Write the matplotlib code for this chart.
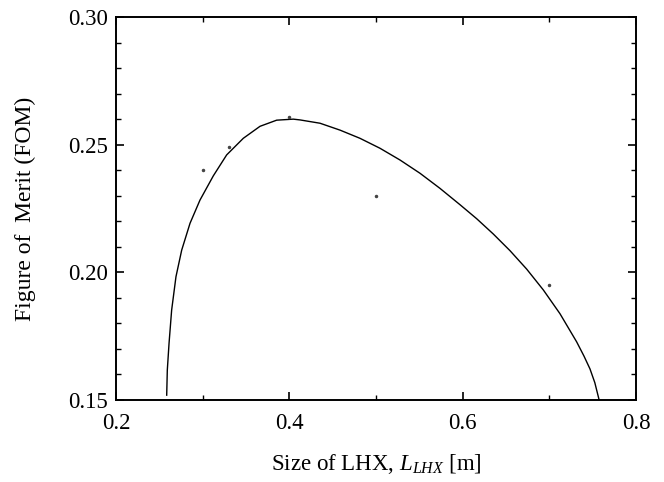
import matplotlib
matplotlib.use('Agg')
import matplotlib.pyplot as plt
from matplotlib.ticker import MultipleLocator, FuncFormatter

plt.rcParams['font.family'] = 'Liberation Serif'
plt.rcParams['mathtext.fontset'] = 'custom'
plt.rcParams['mathtext.rm'] = 'Liberation Serif'
plt.rcParams['mathtext.it'] = 'Liberation Serif:italic'

# measured points
x_data = [0.30, 0.33, 0.40, 0.50, 0.70]
fom_data = [0.240, 0.249, 0.261, 0.230, 0.195]

# fitted curve
x_fit = [0.2585, 0.2592, 0.2612, 0.2642, 0.2692, 0.2758, 0.2854, 0.2969,
         0.3123, 0.3277, 0.3469, 0.3662, 0.3854, 0.4046, 0.4123, 0.4354,
         0.4585, 0.4815, 0.5046, 0.5277, 0.5508, 0.5738, 0.5969, 0.6162,
         0.6354, 0.6546, 0.6738, 0.6931, 0.7123, 0.7315, 0.7400, 0.7469,
         0.7525, 0.7575]
fom_fit = [0.1519, 0.1617, 0.1722, 0.1852, 0.1983, 0.2087, 0.2192, 0.2283,
           0.2378, 0.2460, 0.2525, 0.2572, 0.2596, 0.2600, 0.2597, 0.2584,
           0.2557, 0.2525, 0.2486, 0.2440, 0.2388, 0.2329, 0.2265, 0.2210,
           0.2150, 0.2085, 0.2013, 0.1931, 0.1838, 0.1728, 0.1672, 0.1622,
           0.1568, 0.1500]

fig = plt.figure(figsize=(6.64, 4.82), dpi=100)
ax = fig.add_axes([0.1747, 0.1701, 0.7831, 0.7946])

ax.plot(x_fit, fom_fit, color='black', linewidth=1.0)
ax.plot(x_data, fom_data, 'o', color='#444444', markersize=1.5)

ax.set_xlim(0.2, 0.8)
ax.set_ylim(0.15, 0.30)
ax.xaxis.set_major_locator(MultipleLocator(0.2))
ax.xaxis.set_minor_locator(MultipleLocator(0.1))
ax.yaxis.set_major_locator(MultipleLocator(0.05))
ax.yaxis.set_minor_locator(MultipleLocator(0.01))
ax.xaxis.set_major_formatter(FuncFormatter(lambda v, p: '%.1f' % v))
ax.yaxis.set_major_formatter(FuncFormatter(lambda v, p: '%.2f' % v))

ax.tick_params(which='both', direction='in', top=True, right=True, labelsize=16.5)
ax.tick_params(which='major', length=6, width=1.2)
ax.tick_params(which='minor', length=3.5, width=1.0)
ax.tick_params(axis='x', which='major', pad=9)
ax.tick_params(axis='y', which='major', pad=6)
for s in ax.spines.values():
    s.set_linewidth(1.4)

ax.set_xlabel('Size of LHX, $L_{LHX}$ [m]', fontsize=16.5, labelpad=13)
ax.set_ylabel('Figure of  Merit (FOM)', fontsize=17, labelpad=23)

fig.savefig('out.png', dpi=100)
